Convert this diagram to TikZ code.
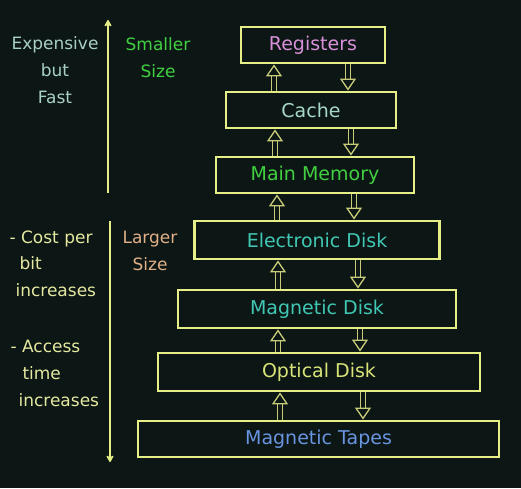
\documentclass[tikz,border=0pt]{standalone}
\usepackage{fontspec}
\setmainfont{DejaVu Sans}
\usetikzlibrary{arrows.meta}
\definecolor{bg}{HTML}{0C1614}
\definecolor{boxc}{HTML}{E6EE88}
\definecolor{arrc}{HTML}{C8CC78}
\definecolor{regc}{HTML}{D890D8}
\definecolor{cachec}{HTML}{A8D8C8}
\definecolor{mainc}{HTML}{40D040}
\definecolor{diskc}{HTML}{40C8B4}
\definecolor{optc}{HTML}{D8E478}
\definecolor{tapec}{HTML}{6894E0}
\definecolor{sidec}{HTML}{A8D0C4}
\definecolor{costc}{HTML}{E4E8A0}
\definecolor{largec}{HTML}{E0B088}
\tikzset{level/.style = {draw=boxc, line width=2.8pt, rectangle, minimum height=36pt, inner sep=0pt, font=\fontsize{19}{24}\selectfont},
         updown/.style = {draw=arrc, line width=1.3pt, double=bg, double distance=4.2pt, -{Triangle[open, length=12pt, width=16pt, line width=1.3pt]}},
         side/.style = {align=center, font=\fontsize{17}{27}\selectfont},
         axis/.style = {draw=boxc, line width=1.8pt, -{Stealth[length=8pt,width=9pt,round]}}}

\begin{document}
\begin{tikzpicture}[x=1pt,y=1pt]
    \fill[bg](0,0)rectangle(521,488);
    \useasboundingbox(0,0)rectangle(521,488);
    % memory levels
    \node[level, minimum width=144pt, text=regc](reg)at(313,443){Registers};
    \node[level, minimum width=170pt, text=cachec](cache)at(311,378){Cache};
    \node[level, minimum width=198pt, text=mainc](mm)at(315,313){Main Memory};
    \node[level, minimum width=245pt, minimum height=38pt, text=diskc](ed)at(317,248){Electronic Disk};
    \node[level, minimum width=278pt, minimum height=38pt, text=diskc](md)at(317,179){Magnetic Disk};
    \node[level, minimum width=322pt, minimum height=38pt, text=optc](od)at(319,116){Optical Disk};
    \node[level, minimum width=361pt, text=tapec](mt)at(318.5,49){Magnetic Tapes};
    % transfers between levels
    \draw[updown](274,0 |- cache.north)--(274,0 |- reg.south);
    \draw[updown](348,0 |- reg.south)--(348,0 |- cache.north);
    \draw[updown](275,0 |- mm.north)--(275,0 |- cache.south);
    \draw[updown](351,0 |- cache.south)--(351,0 |- mm.north);
    \draw[updown](277,0 |- ed.north)--(277,0 |- mm.south);
    \draw[updown](354,0 |- mm.south)--(354,0 |- ed.north);
    \draw[updown](278,0 |- md.north)--(278,0 |- ed.south);
    \draw[updown](358,0 |- ed.south)--(358,0 |- md.north);
    \draw[updown](278,0 |- od.north)--(278,0 |- md.south);
    \draw[updown](360,0 |- md.south)--(360,0 |- od.north);
    \draw[updown](280,0 |- mt.north)--(280,0 |- od.south);
    \draw[updown](363,0 |- od.south)--(363,0 |- mt.north);
    % left side axes
    \coordinate(upbot)at(108,295);
    \coordinate(uptop)at(108,468);
    \coordinate(dntop)at(110,267);
    \coordinate(dnbot)at(110,26);
    \draw[axis](upbot)--(uptop);
    \draw[axis](dntop)--(dnbot);
    % labels
    \node[side, text=sidec](fast)at(55,418){Expensive\\but\\Fast};
    \node[side, text=mainc](small)at(158,430){Smaller\\Size};
    \node[side, text=largec](large)at(150,237){Larger\\Size};
    \node[side, align=left, text=costc, anchor=west](cost)at(6,224){- Cost per\\[-1pt]\hspace*{10pt}bit\\\hspace*{6pt}increases};
    \node[side, align=left, text=costc, anchor=west](access)at(7,115){- Access\\\hspace*{12pt}time\\\hspace*{8pt}increases};
\end{tikzpicture}
\end{document}
